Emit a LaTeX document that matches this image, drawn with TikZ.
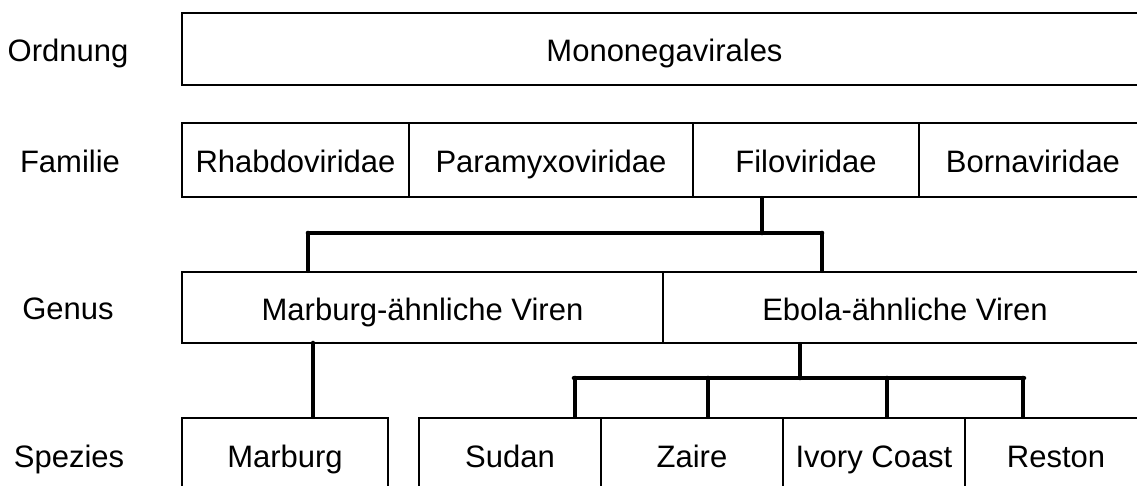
\documentclass[tikz,border=0pt]{standalone}
\usepackage{fontspec}
\setmainfont{Liberation Sans}
\usetikzlibrary{positioning, calc}

\begin{document}
\begin{tikzpicture}[
    x=0.5pt, y=-0.5pt,
    cell/.style={rectangle, draw=black, line width=1.2pt, inner sep=0pt, minimum height=36pt, text height=13pt, text depth=0pt, align=center, font=\fontsize{15.5}{18}\selectfont},
    rowlabel/.style={inner sep=0pt, text height=13pt, text depth=0pt, font=\fontsize{15.5}{18}\selectfont},
    link/.style={draw=black, line width=2.3pt, line cap=round}
]
\useasboundingbox (0,0) rectangle (1137,486);
\clip (0,0) rectangle (1137,486);

% Rank labels
\node[rowlabel] (ordnung) at (68,49) {Ordnung};
\node[rowlabel] (familie) at (70,160) {Familie};
\node[rowlabel] (genus) at (68,307) {Genus};
\node[rowlabel] (spezies) at (69,455) {Spezies};

% Order
\node[cell, minimum width=482.5pt] (mono) at (664.5,49) {Mononegavirales};

% Families
\node[cell, minimum width=113.5pt, minimum height=37pt] (rhabdo) at (295.5,160) {Rhabdoviridae};
\node[cell, minimum width=142pt, minimum height=37pt] (paramyxo) at (551,160) {Paramyxoviridae};
\node[cell, minimum width=113pt, minimum height=37pt] (filo) at (806,160) {Filoviridae};
\node[cell, minimum width=114pt, minimum height=37pt] (borna) at (1033,160) {Bornaviridae};

% Genera
\node[cell, minimum width=240.5pt, minimum height=35.5pt] (marsim) at (422.5,307.5) {Marburg-ähnliche Viren};
\node[cell, minimum width=242pt, minimum height=35.5pt] (ebosim) at (905,307.5) {Ebola-ähnliche Viren};

% Species
\node[cell, minimum width=103pt, minimum height=37pt] (marburg) at (285,455) {Marburg};
\node[cell, minimum width=91pt, minimum height=37pt] (sudan) at (510,455) {Sudan};
\node[cell, minimum width=91pt, minimum height=37pt] (zaire) at (692,455) {Zaire};
\node[cell, minimum width=91pt, minimum height=37pt] (ivory) at (874,455) {Ivory Coast};
\node[cell, minimum width=91pt, minimum height=37pt] (reston) at (1056,455) {Reston};

% Junctions
\coordinate (filojoin) at (762,233);
\coordinate (genl) at (308,233);
\coordinate (genr) at (822,233);
\coordinate (ebojoin) at (800,378);
\coordinate (spl) at (574,378);
\coordinate (spr) at (1024,378);

% Filoviridae to genera
\draw[link] (filojoin |- filo.south) -- (filojoin);
\draw[link] (genl) -- (genr);
\draw[link] (genl) -- (genl |- marsim.north);
\draw[link] (genr) -- (genr |- ebosim.north);

% Genera to species
\draw[link] (313,343) coordinate (marjoin) -- (marjoin |- marburg.north);
\draw[link] (ebojoin |- ebosim.south) -- (ebojoin);
\draw[link] (spl) -- (spr);
\foreach \x/\sp in {575/sudan, 708/zaire, 887/ivory, 1023/reston}
    \draw[link] (\x,378) -- (\x,378 |- \sp.north);

\end{tikzpicture}
\end{document}
